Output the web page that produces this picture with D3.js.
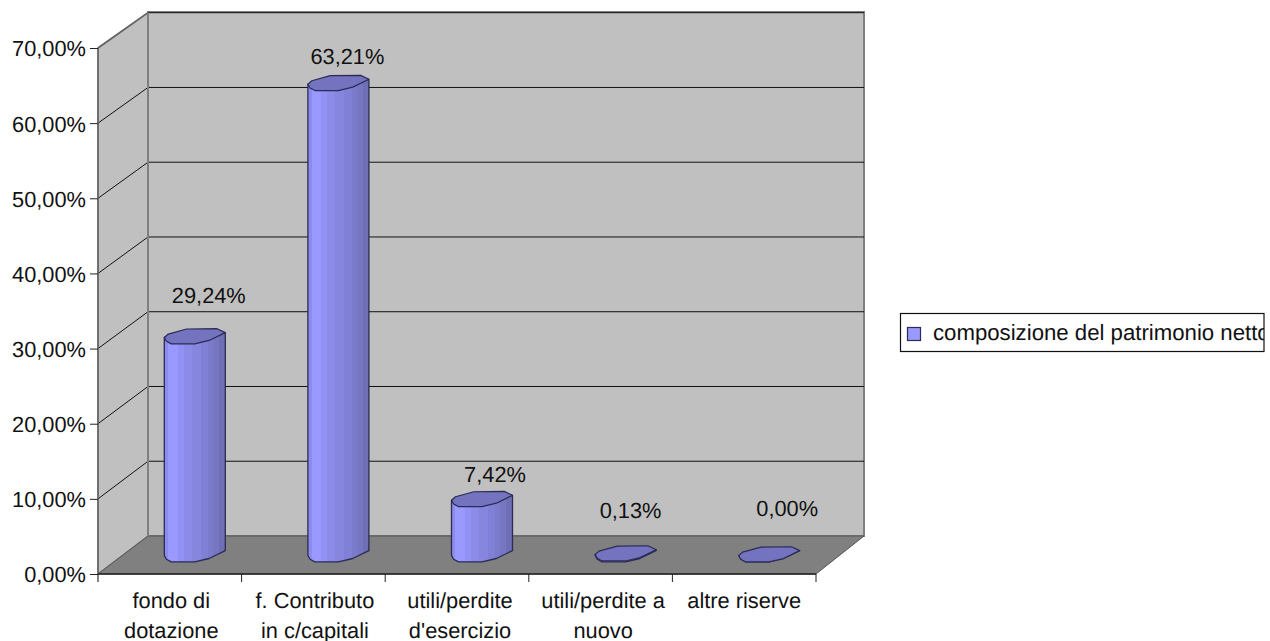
<!DOCTYPE html>
<html><head><meta charset="utf-8">
<script src="https://cdn.jsdelivr.net/npm/d3@7/dist/d3.min.js"></script>
<style>html,body{margin:0;padding:0;background:#fff}svg{display:block}text{font-family:"Liberation Sans",Arial,sans-serif;font-size:21.8px;fill:#111;text-rendering:geometricPrecision}</style>
</head><body><svg id="c" width="1270" height="641"></svg>
<script>
const categories=[["fondo di","dotazione"],["f. Contributo","in c/capitali"],["utili/perdite","d'esercizio"],["utili/perdite a","nuovo"],["altre riserve"]];
const values=[29.24,63.21,7.42,0.13,0.00];
const valueLabels=["29,24%","63,21%","7,42%","0,13%","0,00%"];
const tickValues=[0,10,20,30,40,50,60,70];
const tickLabels=["0,00%","10,00%","20,00%","30,00%","40,00%","50,00%","60,00%","70,00%"];
const seriesName="composizione del patrimonio netto";
// layout
const labelShift=[14,9,13,5,18];
const labelRaise=[33.4,19.1,17.5,35.8,38.8];
const categoryShift=[1.5,1.5,3,2.5,0];
const left=98,right=816,yBottom=574,yTop=48,dx=50,backRight=864;
const capOutline=[[-1,.13],[-.87,-.3],[-.27,-.93],[.73,-.97],[1,-.48],[.47,.5],[0,.93],[-.77,.93],[-.93,.6]];
const y=d3.scaleLinear().domain([0,70]).range([yBottom,yTop]);
const yBack=d3.scaleLinear().domain([0,70]).range([536,12.7]);
const yMid=d3.scaleLinear().domain([0,70]).range([554.5,32.5]);
const x=d3.scaleBand().domain(d3.range(categories.length)).range([left,right]);
const svg=d3.select("#c");
const line=d3.line();
// gradient of the facetted cylinder
const shades=["#8c8cec","#9999ff","#9292f4","#8c8ce8","#8686de","#8080d6","#7b7bcc","#7676c2","#6f6fb6","#6868aa"];
const stops=[0,.06,.22,.32,.45,.6,.72,.8,.9,1];
const g=svg.append("defs").append("linearGradient").attr("id","cyl");
shades.forEach((c,i)=>{
  g.append("stop").attr("offset",stops[i]).attr("stop-color",c);
  g.append("stop").attr("offset",i<shades.length-1?stops[i+1]:1).attr("stop-color",c);
});
svg.select("defs").append("clipPath").attr("id","lg").append("rect").attr("x",900).attr("y",313).attr("width",364).attr("height",39);
// walls and floor
svg.append("path").attr("fill","#c0c0c0").attr("stroke","#808080").attr("stroke-width",1.5)
  .attr("d",line([[left,y(0)],[left,y(70)],[left+dx,yBack(70)],[left+dx,yBack(0)]])+"Z");
svg.append("path").attr("fill","#c0c0c0").attr("stroke","#808080").attr("stroke-width",2)
  .attr("d",line([[left+dx,yBack(70)-.8],[backRight,yBack(70)-.8],[backRight,yBack(0)],[left+dx,yBack(0)]])+"Z");
svg.append("path").attr("fill","#808080").attr("stroke","#555").attr("stroke-width",1)
  .attr("d",line([[left,y(0)],[left+dx,yBack(0)],[backRight,yBack(0)],[right,y(0)]])+"Z");
// gridlines
svg.append("g").selectAll("path").data(tickValues.filter(t=>t>0&&t<70)).join("path")
  .attr("fill","none").attr("stroke","#111").attr("stroke-width",1)
  .attr("d",t=>line([[left,y(t)],[left+dx,yBack(t)],[backRight,yBack(t)]]));
svg.append("path").attr("fill","none").attr("stroke","#111").attr("stroke-width",1)
  .attr("d",line([[left+dx,yBack(70)],[backRight,yBack(70)]]));
svg.append("path").attr("fill","none").attr("stroke","#666").attr("stroke-width",1.6)
  .attr("d",line([[left,y(70)],[left+dx,yBack(70)]]));
svg.append("path").attr("stroke","#808080").attr("stroke-width",2).attr("d",line([[left+dx,yBack(70)],[left+dx,yBack(0)]]));
// axes
const axY=svg.append("g").attr("transform",`translate(${left},0)`)
  .call(d3.axisLeft(y).tickValues(tickValues).tickSize(8).tickFormat((d,i)=>tickLabels[i]));
axY.attr("font-size",null).attr("font-family",null);
axY.selectAll("line").attr("stroke","#222");
axY.select(".domain").attr("stroke","#666").attr("stroke-width",1.6).attr("d",`M0,${yTop}V${yBottom+8}`);
axY.selectAll("text").attr("x",-12).attr("dy",".36em");
const ticksX=d3.range(1,categories.length+1).map(i=>i<categories.length?x(i):right);
svg.append("path").attr("stroke","#222").attr("stroke-width",1.4).attr("d",line([[left,yBottom],[right,yBottom]]));
svg.append("g").selectAll("line").data(ticksX).join("line")
  .attr("x1",d=>d).attr("x2",d=>d).attr("y1",yBottom).attr("y2",yBottom+8).attr("stroke","#222");
svg.append("g").selectAll("text").data(categories).join("text")
  .attr("text-anchor","middle")
  .attr("transform",(d,i)=>`translate(${x(i)+x.bandwidth()/2+categoryShift[i]},0)`)
  .selectAll("tspan").data(d=>d).join("tspan").attr("x",0).attr("y",(d,i)=>608+i*29.5).text(d=>d);
// cylinders
const rx=30.5,ry=8;
const cap=(cx,cy)=>capOutline.map(p=>[cx+p[0]*rx,cy+p[1]*ry]);
const bars=svg.append("g").selectAll("g").data(values).join("g");
bars.each(function(v,i){
  const s=d3.select(this),cx=x(i)+x.bandwidth()/2+dx/2,y0=yMid(0),yt=yMid(v);
  const capPts=cap(cx,yt),basePts=cap(cx,y0);
  const body=[capPts[4],...basePts.slice(4),basePts[0],capPts[0]];
  s.append("path").attr("d",line(body)+"Z").attr("fill","url(#cyl)").attr("stroke","#2b2b55").attr("stroke-width",1.3).attr("stroke-linejoin","round");
  s.append("path").attr("d",line(capPts)+"Z").attr("fill","#7373c0").attr("stroke","#2b2b55").attr("stroke-width",1.2).attr("stroke-linejoin","round");
  s.append("text").attr("text-anchor","middle").attr("x",cx+labelShift[i]).attr("y",yt-labelRaise[i]).text(valueLabels[i]);
});
// legend
svg.append("rect").attr("x",900.5).attr("y",313.5).attr("width",363.5).attr("height",38).attr("fill","#fff").attr("stroke","#111").attr("stroke-width",1.2);
svg.append("rect").attr("x",907.5).attr("y",327.5).attr("width",13).attr("height",13).attr("fill","#9999ff").attr("stroke","#2b2b55").attr("stroke-width",1.2);
svg.append("text").attr("x",933).attr("y",340).attr("clip-path","url(#lg)").style("font-size","22.2px").text(seriesName);
</script></body></html>
